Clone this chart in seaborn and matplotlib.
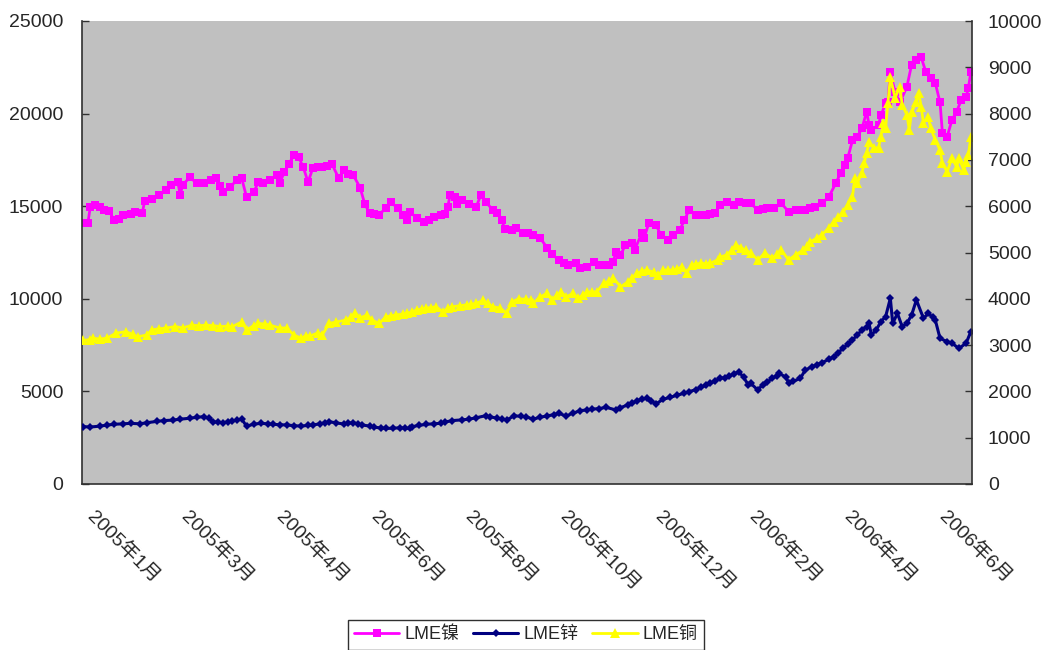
import matplotlib
matplotlib.use("Agg")
import matplotlib.pyplot as plt
import seaborn as sns
from matplotlib.ticker import FixedLocator

# ---------------- data ----------------
# x = trading-day index (category position), 376 trading days from 2005-01 to 2006-06
N_DAYS = 376
LABEL_STEP = 40
tick_labels = ['2005年1月', '2005年3月', '2005年4月', '2005年6月', '2005年8月',
               '2005年10月', '2005年12月', '2006年2月', '2006年4月', '2006年6月']

nickel_day = [0, 2, 3, 5, 7, 9, 11, 13, 15, 17, 20, 22, 25, 26, 29, 32, 35, 37, 40, 41,
              42, 45, 48, 51, 54, 56, 58, 59, 62, 65, 67, 69, 72, 74, 76, 79, 82, 83, 85, 87,
              89, 91, 93, 95, 97, 99, 101, 103, 105, 108, 110, 112, 114, 117, 119, 121, 123, 125, 128, 130,
              133, 135, 137, 138, 141, 144, 146, 148, 151, 153, 154, 155, 157, 158, 160, 163, 166, 168, 170, 173,
              175, 177, 178, 181, 183, 186, 188, 190, 193, 196, 198, 201, 203, 205, 208, 210, 213, 216, 218, 220,
              222, 224, 225, 227, 229, 232, 233, 236, 237, 239, 242, 244, 247, 249, 252, 254, 256, 259, 261, 263,
              265, 267, 269, 272, 275, 277, 280, 282, 285, 287, 289, 292, 295, 298, 301, 303, 305, 307, 309, 312,
              315, 318, 320, 322, 323, 325, 327, 329, 331, 332, 333, 336, 337, 339, 340, 341, 343, 345, 348, 350,
              352, 354, 356, 358, 360, 362, 363, 365, 367, 369, 371, 373, 374, 375]
nickel_price = [14100, 14100, 14950, 15050, 14950, 14800, 14750, 14250, 14300, 14500, 14600, 14700, 14650, 15300, 15400, 15600, 15900, 16150, 16300, 15600,
                16150, 16550, 16250, 16250, 16400, 16500, 16100, 15750, 16050, 16400, 16500, 15500, 15750, 16300, 16250, 16400, 16700, 16250, 16850, 17300,
                17750, 17650, 17100, 16300, 17050, 17100, 17100, 17150, 17300, 16500, 16950, 16750, 16700, 16000, 15100, 14650, 14600, 14550, 14900, 15200,
                14900, 14550, 14250, 14700, 14350, 14150, 14250, 14400, 14550, 14600, 14950, 15600, 15500, 15100, 15350, 15100, 14950, 15600, 15250, 14800,
                14650, 14250, 13750, 13700, 13800, 13550, 13550, 13450, 13300, 12750, 12400, 12100, 11950, 11850, 11950, 11650, 11700, 12000, 11850, 11850,
                11850, 12000, 12550, 12350, 12900, 13000, 12650, 13550, 13300, 14100, 14000, 13450, 13200, 13450, 13700, 14250, 14800, 14550, 14550, 14550,
                14600, 14650, 15050, 15250, 15050, 15250, 15150, 15150, 14800, 14850, 14900, 14900, 15150, 14700, 14800, 14800, 14800, 14900, 14950, 15150,
                15500, 16250, 16800, 17250, 17600, 18550, 18750, 19200, 20100, 19400, 19100, 19400, 19900, 20550, 20650, 22250, 21150, 20600, 21450, 22650,
                22900, 23050, 22250, 21900, 21650, 20600, 18950, 18750, 19650, 20100, 20750, 20900, 21400, 22250]

zinc_day = [0, 3, 7, 10, 13, 17, 20, 24, 27, 31, 34, 38, 41, 45, 48, 51, 53, 55, 57, 59,
            61, 63, 65, 67, 69, 72, 75, 78, 80, 83, 86, 89, 92, 95, 97, 100, 102, 104, 107, 110,
            112, 114, 116, 118, 121, 123, 126, 128, 131, 134, 136, 138, 139, 142, 145, 148, 151, 153, 156, 160,
            163, 166, 170, 172, 175, 177, 179, 182, 185, 187, 190, 193, 196, 199, 201, 204, 207, 210, 213, 215,
            218, 221, 225, 227, 230, 232, 234, 236, 238, 240, 242, 245, 248, 251, 254, 256, 259, 261, 263, 265,
            267, 269, 271, 273, 275, 277, 279, 281, 282, 285, 287, 289, 291, 293, 294, 297, 298, 300, 303, 305,
            308, 310, 312, 315, 317, 319, 321, 323, 325, 327, 329, 331, 332, 333, 335, 337, 339, 341, 342, 344,
            346, 348, 350, 352, 355, 357, 359, 360, 362, 365, 367, 370, 373, 375]
zinc_price = [1240, 1230, 1250, 1270, 1290, 1300, 1310, 1300, 1325, 1350, 1370, 1380, 1400, 1420, 1440, 1455, 1420, 1345, 1330, 1325,
              1340, 1360, 1380, 1400, 1250, 1290, 1310, 1300, 1290, 1280, 1275, 1260, 1250, 1265, 1275, 1300, 1320, 1345, 1320, 1295,
              1310, 1325, 1300, 1275, 1250, 1225, 1210, 1200, 1205, 1215, 1205, 1200, 1240, 1265, 1290, 1300, 1310, 1340, 1370, 1385,
              1400, 1430, 1475, 1450, 1420, 1400, 1380, 1475, 1460, 1455, 1400, 1440, 1470, 1500, 1525, 1470, 1530, 1585, 1600, 1615,
              1630, 1655, 1600, 1650, 1705, 1750, 1800, 1830, 1850, 1790, 1730, 1830, 1870, 1920, 1960, 1995, 2040, 2090, 2130, 2175,
              2230, 2280, 2300, 2330, 2380, 2425, 2305, 2140, 2175, 2030, 2140, 2200, 2280, 2340, 2390, 2305, 2175, 2220, 2280, 2460,
              2535, 2580, 2620, 2690, 2750, 2840, 2930, 3020, 3110, 3220, 3325, 3400, 3470, 3220, 3325, 3505, 3615, 4010, 3470, 3685,
              3400, 3470, 3650, 3975, 3580, 3685, 3600, 3540, 3145, 3075, 3040, 2930, 3040, 3290]

copper_day = [0, 3, 4, 7, 10, 14, 18, 21, 23, 27, 29, 32, 35, 39, 42, 46, 49, 52, 55, 58,
              61, 63, 67, 69, 72, 74, 77, 79, 83, 86, 89, 92, 94, 96, 99, 101, 104, 107, 111, 113,
              115, 117, 120, 122, 125, 128, 130, 132, 135, 137, 139, 141, 143, 145, 147, 149, 152, 154, 156, 159,
              162, 164, 166, 169, 171, 173, 176, 179, 181, 184, 187, 189, 190, 193, 196, 198, 200, 202, 204, 207,
              209, 211, 213, 215, 217, 220, 222, 224, 227, 230, 232, 234, 236, 238, 241, 243, 245, 247, 249, 251,
              253, 255, 257, 259, 261, 263, 265, 268, 269, 272, 274, 276, 278, 280, 282, 285, 288, 291, 293, 295,
              298, 301, 304, 306, 307, 310, 312, 315, 317, 319, 321, 323, 325, 326, 327, 329, 330, 331, 332, 334,
              336, 337, 338, 339, 340, 341, 343, 345, 346, 348, 349, 350, 352, 353, 354, 355, 357, 358, 360, 362,
              363, 365, 367, 369, 370, 372, 373, 374, 375]
copper_price = [3100, 3120, 3150, 3130, 3150, 3260, 3290, 3230, 3180, 3220, 3330, 3350, 3370, 3400, 3370, 3430, 3420, 3430, 3420, 3400,
                3410, 3400, 3500, 3330, 3420, 3470, 3450, 3430, 3370, 3370, 3220, 3150, 3200, 3200, 3260, 3220, 3470, 3500, 3540, 3600,
                3690, 3590, 3650, 3540, 3470, 3610, 3630, 3650, 3670, 3690, 3720, 3760, 3780, 3800, 3810, 3830, 3720, 3800, 3830, 3850,
                3870, 3880, 3900, 3970, 3900, 3830, 3800, 3690, 3930, 4000, 3990, 3970, 3900, 4040, 4120, 3970, 4080, 4150, 4040, 4120,
                4010, 4080, 4150, 4150, 4150, 4340, 4380, 4450, 4260, 4360, 4450, 4560, 4590, 4620, 4580, 4510, 4620, 4620, 4620, 4650,
                4690, 4560, 4730, 4750, 4770, 4760, 4770, 4840, 4900, 4950, 5050, 5160, 5100, 5050, 4990, 4840, 4990, 4880, 4960, 5050,
                4840, 4950, 5050, 5150, 5230, 5310, 5380, 5530, 5660, 5770, 5870, 6030, 6200, 6610, 6500, 6720, 6930, 7150, 7390, 7260,
                7260, 7500, 7800, 7690, 8230, 8790, 8340, 8580, 8190, 7970, 7650, 8040, 8250, 8450, 8150, 7800, 7930, 7690, 7430, 7210,
                6930, 6740, 7040, 6850, 7040, 6780, 6960, 7110, 7500]

series_names = ['LME镍', 'LME锌', 'LME铜']
series_colors = ['#FF00FF', '#000080', '#FFFF00']

# ---------------- style ----------------
sns.set_style("white")
plt.rcParams['font.family'] = ['Liberation Sans', 'Noto Sans CJK SC', 'DejaVu Sans']
FS_Y = 14
FS_X = 14
FS_LEG = 13

fig = plt.figure(figsize=(10.48, 6.5), dpi=100)
ax = fig.add_axes([82 / 1048, 1 - 484 / 650, 890 / 1048, 463 / 650])
ax.set_facecolor('#C0C0C0')
ax2 = ax.twinx()

sns.lineplot(x=nickel_day, y=nickel_price, ax=ax, color=series_colors[0], marker='s',
             markersize=6.2, markeredgewidth=0, linewidth=2, label=series_names[0])
sns.lineplot(x=zinc_day, y=zinc_price, ax=ax2, color=series_colors[1], marker='D',
             markersize=4.3, markeredgewidth=0, linewidth=2.2, label=series_names[1])
sns.lineplot(x=copper_day, y=copper_price, ax=ax2, color=series_colors[2], marker='^',
             markersize=7.5, markeredgewidth=0, linewidth=2, label=series_names[2])

for a in (ax, ax2):
    if a.get_legend() is not None:
        a.get_legend().remove()

ax.set_xlim(-0.5, N_DAYS - 0.5)
ax.set_ylim(0, 25000)
ax2.set_ylim(0, 10000)
ax.set_yticks(range(0, 25001, 5000))
ax2.set_yticks(range(0, 10001, 1000))

tick_pos = list(range(0, N_DAYS, LABEL_STEP))
ax.xaxis.set_major_locator(FixedLocator(tick_pos))
ax.set_xticklabels(tick_labels, rotation=-45, ha='left', va='top', fontsize=FS_X)
ax.xaxis.set_minor_locator(FixedLocator([i - 0.5 for i in range(N_DAYS + 1)]))
ax.tick_params(axis='x', which='major', length=0, pad=17)
ax.tick_params(axis='x', which='minor', direction='in', length=3.3, width=0.6, color='#303030')
ax.tick_params(axis='y', direction='in', length=5, width=1, color='#303030', labelsize=FS_Y, pad=13.5,
               left=True)
ax2.tick_params(axis='y', direction='in', length=5, width=1, color='#303030', labelsize=FS_Y, pad=11.5,
                right=True)

for a in (ax, ax2):
    a.set_xlabel('')
    a.set_ylabel('')
    a.grid(False)
    for s in a.spines.values():
        s.set_visible(False)
ax.spines['left'].set_visible(True)
ax.spines['bottom'].set_visible(True)
ax2.spines['right'].set_visible(True)
for s in (ax.spines['left'], ax.spines['bottom'], ax2.spines['right']):
    s.set_color('#303030')
    s.set_linewidth(1.2)

handles = ax.get_lines()[:1] + ax2.get_lines()[:2]
leg = fig.legend(handles, series_names, loc='upper center', bbox_to_anchor=(0.502, 1 - 620 / 650),
                 ncol=3, frameon=True, fancybox=False, edgecolor='#303030', framealpha=1,
                 fontsize=FS_LEG, handlelength=2.5, handletextpad=0.3, columnspacing=0.75,
                 borderpad=0.35, borderaxespad=0)
leg.get_frame().set_linewidth(1.0)

fig.savefig('out.png', dpi=100)
